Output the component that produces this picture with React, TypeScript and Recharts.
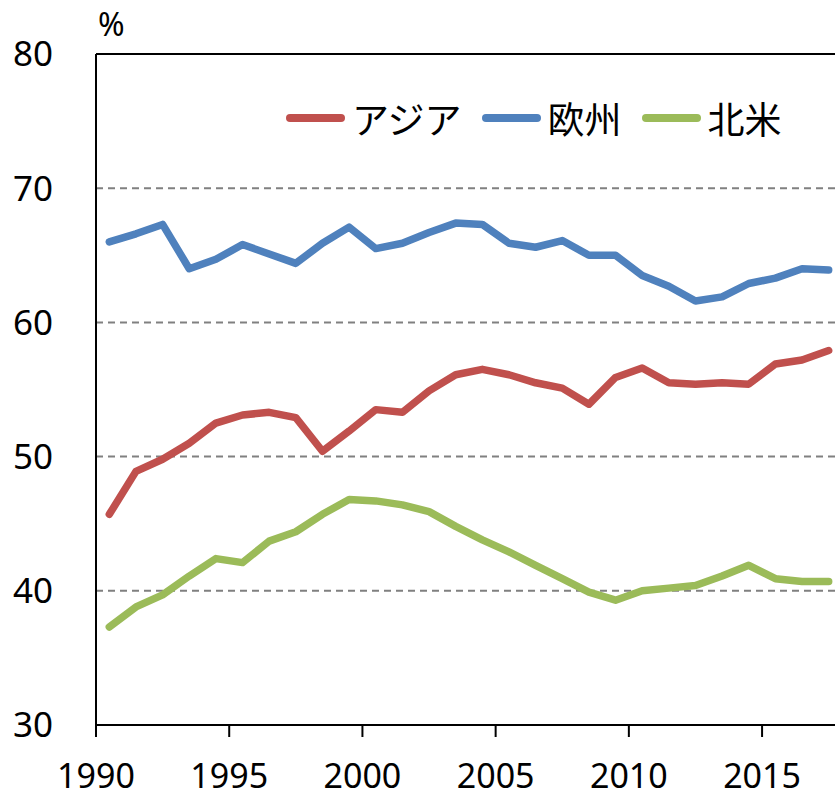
import {
  LineChart,
  Line,
  XAxis,
  YAxis,
  CartesianGrid,
  ReferenceLine,
  Legend,
} from "recharts";

// 1990..2017
const years = [
  1990, 1991, 1992, 1993, 1994, 1995, 1996, 1997, 1998, 1999, 2000, 2001, 2002,
  2003, 2004, 2005, 2006, 2007, 2008, 2009, 2010, 2011, 2012, 2013, 2014, 2015,
  2016, 2017,
];
const asia = [
  45.7, 48.9, 49.8, 51.0, 52.5, 53.1, 53.3, 52.9, 50.4, 51.9, 53.5, 53.3, 54.9,
  56.1, 56.5, 56.1, 55.5, 55.1, 53.9, 55.9, 56.6, 55.5, 55.4, 55.5, 55.4, 56.9,
  57.2, 57.9,
];
const europe = [
  66.0, 66.6, 67.3, 64.0, 64.7, 65.8, 65.1, 64.4, 65.9, 67.1, 65.5, 65.9, 66.7,
  67.4, 67.3, 65.9, 65.6, 66.1, 65.0, 65.0, 63.5, 62.7, 61.6, 61.9, 62.9, 63.3,
  64.0, 63.9,
];
const northAmerica = [
  37.3, 38.8, 39.7, 41.1, 42.4, 42.1, 43.7, 44.4, 45.7, 46.8, 46.7, 46.4, 45.9,
  44.8, 43.8, 42.9, 41.9, 40.9, 39.9, 39.3, 40.0, 40.2, 40.4, 41.1, 41.9, 40.9,
  40.7, 40.7,
];
const xTicks = [1990, 1995, 2000, 2005, 2010, 2015];
const yTicks = [30, 40, 50, 60, 70, 80];
const gridValues = [40, 50, 60, 70];

// each year sits in the middle of its slot, ticks fall on the slot edges
const data = years.map((year, i) => ({
  x: year + 0.5,
  asia: asia[i],
  europe: europe[i],
  northAmerica: northAmerica[i],
}));

const yTickStyle = { fill: "#000", fontSize: 35, fontFamily: "'Noto Sans', sans-serif" };
const xTickStyle = { fill: "#000", fontSize: 34, fontFamily: "'Noto Sans', sans-serif" };

const LegendContent = ({ payload }: { payload?: { value: string; color: string }[] }) => (
  <div style={{ display: "flex", alignItems: "center" }}>
    {(payload || []).map((entry) => (
      <div
        key={entry.value}
        style={{ display: "flex", alignItems: "center", marginRight: 20 }}>
        <span
          style={{
            display: "inline-block",
            width: 59,
            height: 8,
            borderRadius: 4,
            background: entry.color,
            marginRight: 7,
          }}
        />
        <span
          style={{
            fontSize: 37,
            lineHeight: "40px",
            color: "#000",
            fontFamily: "'Noto Sans CJK JP', sans-serif",
          }}>
          {entry.value}
        </span>
      </div>
    ))}
  </div>
);

export default function App() {
  return (
    <div
      style={{
        position: "absolute",
        left: 0,
        top: 0,
        width: 835,
        height: 799,
        overflow: "hidden",
        background: "#fff",
      }}>
      <div
        style={{
          position: "absolute",
          left: 98,
          top: 2,
          fontSize: 32,
          fontFamily: "'Noto Sans', sans-serif",
          color: "#000",
        }}>
        %
      </div>
      <LineChart
        width={842}
        height={799}
        data={data}
        margin={{ top: 54, right: 0, bottom: 0, left: 0 }}>
        <CartesianGrid
          vertical={false}
          horizontalValues={gridValues}
          stroke="#808080"
          strokeWidth={2}
          strokeDasharray="7 5"
        />
        <ReferenceLine y={80} stroke="#000" strokeWidth={2} />
        <XAxis
          type="number"
          dataKey="x"
          domain={[1990, 2018]}
          ticks={xTicks}
          allowDataOverflow
          height={74}
          tickSize={12}
          tickMargin={27}
          axisLine={{ stroke: "#000", strokeWidth: 2 }}
          tickLine={{ stroke: "#000", strokeWidth: 2 }}
          tick={xTickStyle}
        />
        <YAxis
          type="number"
          domain={[30, 80]}
          ticks={yTicks}
          width={96}
          tickLine={false}
          tickMargin={37}
          axisLine={{ stroke: "#000", strokeWidth: 2 }}
          tick={yTickStyle}
        />
        <Legend
          content={<LegendContent />}
          itemSorter="dataKey"
          layout="horizontal"
          verticalAlign="middle"
          align="center"
          wrapperStyle={{ top: 98, left: 286, width: 540 }}
        />
        <Line
          name="アジア"
          dataKey="asia"
          stroke="#C0504D"
          strokeWidth={7.5}
          strokeLinecap="round"
          strokeLinejoin="round"
          dot={false}
          isAnimationActive={false}
        />
        <Line
          name="欧州"
          dataKey="europe"
          stroke="#4F81BD"
          strokeWidth={7.5}
          strokeLinecap="round"
          strokeLinejoin="round"
          dot={false}
          isAnimationActive={false}
        />
        <Line
          name="北米"
          dataKey="northAmerica"
          stroke="#9BBB59"
          strokeWidth={7.5}
          strokeLinecap="round"
          strokeLinejoin="round"
          dot={false}
          isAnimationActive={false}
        />
      </LineChart>
    </div>
  );
}
